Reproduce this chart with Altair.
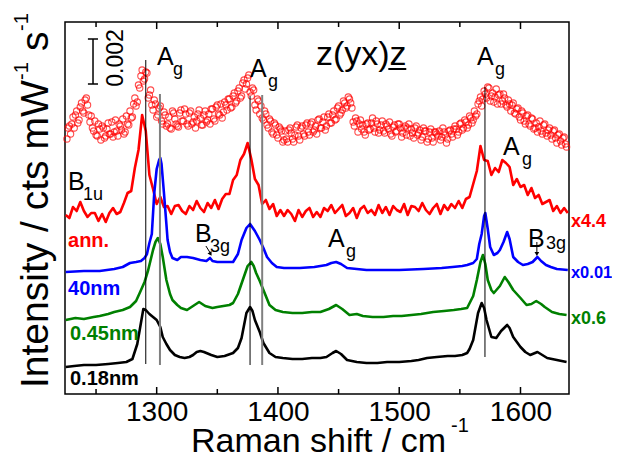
import altair as alt
import pandas as pd

FONT = "Liberation Sans"

# ---------------- spectra (x: Raman shift in cm-1, y: offset intensity, arb. units) ----------------
BLACK_X = [1225,1232,1240,1250,1260,1268,1275,1280,1284,1286,1289,1291,1294,1296,1300,1303,1305,1308,1311,1315,
           1319,1323,1327,1330,1333,1336,1339,1341,1345,1350,1356,1363,1367,1370,1374,1377,1379,1381,1385,1388,
           1393,1398,1404,1412,1420,1428,1435,1440,1445,1448,1452,1457,1465,1473,1482,1490,1500,1510,1516,1523,
           1531,1540,1546,1552,1556,1558,1561,1565,1568,1570,1572,1576,1580,1584,1589,1591,1594,1600,1604,1608,
           1614,1618,1622,1630,1638]
BLACK_Y = [27,28,29,29,30,31,32,35,50,64,85,84,80,78,74,67,57,50,44,39,
           37,36,37,39,42,43,42,41,39,37,38,41,46,56,81,87,83,74,62,51,
           41,37,36,35,35,36,36,37,41,43,40,34,32,31,31,32,32,33,34,36,
           37,38,38,39,41,45,54,81,91,86,74,57,56,63,69,66,57,47,42,39,
           42,39,36,34,32]

GREEN_X = [1225,1233,1240,1248,1253,1260,1265,1272,1278,1283,1286,1290,1293,1297,1299,1301,1303,1305,1308,1311,
           1313,1317,1320,1325,1330,1335,1340,1346,1350,1355,1360,1363,1367,1371,1375,1378,1380,1382,1385,1388,
           1393,1398,1404,1412,1420,1428,1435,1442,1448,1453,1459,1465,1470,1478,1487,1495,1502,1510,1518,1528,
           1537,1545,1551,1556,1561,1564,1567,1569,1571,1573,1576,1578,1583,1587,1590,1594,1600,1605,1609,1613,
           1617,1620,1626,1632,1638]
GREEN_Y = [74,76,75,77,78,80,82,84,87,93,101,112,124,144,152,156,150,137,114,100,
           94,89,86,84,88,92,88,86,87,88,89,91,100,114,128,132,128,121,113,104,
           89,84,82,81,81,82,82,85,89,85,79,80,78,77,77,78,78,79,80,82,
           83,84,85,86,98,114,132,139,130,114,104,101,108,117,112,104,96,89,90,93,
           90,87,82,80,79]

BLUE_X = [1225,1240,1253,1265,1272,1278,1283,1287,1290,1292,1294,1296,1298,1300,1302,1303,1304,1306,1308,1309,
          1311,1313,1317,1320,1325,1330,1336,1341,1344,1346,1350,1356,1363,1367,1370,1374,1377,1381,1385,1388,
          1391,1395,1399,1405,1410,1418,1430,1440,1444,1448,1452,1457,1465,1473,1485,1500,1520,1535,1544,1552,
          1556,1561,1564,1566,1568,1570,1571,1573,1575,1578,1581,1583,1586,1589,1591,1594,1598,1602,1606,1610,
          1614,1617,1621,1625,1630,1639]
BLUE_Y = [122,123,123,125,127,131,132,133,136,140,151,160,201,225,234,236,230,201,170,154,
          142,136,134,137,137,136,134,133,136,133,132,132,132,140,154,166,170,163,154,146,
          137,131,127,126,126,126,127,129,131,132,130,126,125,124,124,124,125,126,127,128,
          129,131,135,150,160,178,181,165,147,139,141,144,152,162,155,137,132,129,130,132,
          137,133,129,127,125,124]

# annealed sample, solid red line, sampled every 3 cm-1 from 1225
RED_START, RED_STEP = 1225, 3
RED_Y = [179,176,187,183,192,183,177,181,181,173,180,172,181,186,180,182,191,201,203,226,
         244,279,263,219,205,190,197,187,188,180,188,189,183,180,188,184,193,186,182,191,
         186,194,185,195,200,200,214,219,234,240,251,235,215,209,190,194,185,190,178,184,
         178,184,180,173,184,177,183,186,177,182,177,186,183,189,181,185,189,178,181,186,
         176,185,188,181,184,179,189,181,187,179,188,184,182,190,179,188,187,183,191,184,
         180,186,190,180,189,184,190,186,193,186,195,197,210,223,248,234,233,219,226,222,
         234,231,227,209,215,207,209,199,206,196,199,190,192,194,183,188,181,186,181]

# annealed sample, open circles (top trace): even cm-1 from 1226 ...
CIRC_A_START = 1226
CIRC_A_Y = [255,268,270,266,283,274,291,281,296,279,
            278,263,259,270,254,266,258,271,260,257,
            274,258,268,275,262,270,283,277,296,292,
            306,324,315,321,299,289,294,277,286,273,
            282,268,277,265,281,270,267,284,273,280,
            268,283,272,266,280,276,269,283,274,270,
            285,273,289,279,276,292,284,295,287,301,
            293,306,298,314,310,319,298,304,284,293,
            288,274,280,266,273,260,269,256,265,252,
            263,252,266,255,259,269,254,268,258,271,
            259,272,264,260,275,266,277,268,280,271,
            283,275,288,281,293,286,297,291,272,276,
            262,274,269,259,271,265,276,262,270,264,
            273,261,268,272,258,269,263,270,257,266,
            259,270,265,256,268,261,254,266,263,255,
            265,252,262,258,254,266,259,255,264,257,
            268,259,270,264,274,266,278,271,283,280,
            293,288,303,296,306,298,292,305,299,290,
            300,289,294,283,291,280,286,274,281,270,
            279,268,275,266,262,273,260,270,258,266,
            255,264,251,260,249,257,247]
# ... and odd cm-1 from 1227
CIRC_B_START = 1227
CIRC_B_Y = [266,260,277,279,271,287,283,294,289,272,
            266,273,258,265,268,256,265,260,272,262,
            263,270,264,260,278,269,276,290,288,309,
            318,313,322,296,304,284,290,279,288,270,
            279,270,266,283,275,268,281,273,285,270,
            281,270,277,273,284,269,279,272,280,285,
            275,287,280,290,282,289,295,286,298,291,
            303,296,311,305,316,302,306,289,295,280,
            276,283,269,275,262,271,259,267,263,254,
            255,264,261,252,267,258,266,260,269,262,
            270,262,268,274,266,272,264,277,271,279,
            274,286,279,284,291,288,295,286,268,273,
            270,265,262,270,264,271,266,273,261,269,
            263,270,265,260,267,262,270,266,261,268,
            266,258,261,266,259,264,257,263,252,262,
            256,262,260,263,257,262,251,263,260,265,
            265,262,271,266,272,269,276,274,278,290,
            297,295,300,307,293,301,297,290,300,293,
            296,287,290,289,281,285,277,283,273,278,
            270,276,265,271,267,263,269,261,264,259,
            263,256,259,253,256,250]

# vertical guide lines
VL_X = [1291, 1302.7, 1377, 1387, 1570.7]
VL_TOP = [334, 300, 298, 299, 307]
VL_BOT = [30, 29, 29, 29, 37]
VL_KIND = ["k", "g", "k", "g", "k"]

MAJOR = [1300, 1400, 1500, 1600]
MINOR = [1250, 1350, 1450, 1550]

# ---------------- tables ----------------
def series(xs, ys):
    return pd.DataFrame({"x": xs, "y": ys})

black = series(BLACK_X, BLACK_Y)
green = series(GREEN_X, GREEN_Y)
blue = series(BLUE_X, BLUE_Y)
red = series([RED_START + RED_STEP * i for i in range(len(RED_Y))], RED_Y)
circ = pd.concat([
    series([CIRC_A_START + 2 * i for i in range(len(CIRC_A_Y))], CIRC_A_Y),
    series([CIRC_B_START + 2 * i for i in range(len(CIRC_B_Y))], CIRC_B_Y),
], ignore_index=True)
vl = pd.DataFrame({"x": VL_X, "y": VL_TOP, "y2": VL_BOT, "kind": VL_KIND})

XS = alt.Scale(domain=[1224.4, 1640], nice=False, zero=False)
YS = alt.Scale(domain=[0, 372], nice=False, zero=False)
X = alt.X("x:Q", scale=XS, axis=alt.Axis(values=MAJOR, ticks=False, tickSize=0, domain=False, grid=False,
                                         labelFontSize=28, labelFont=FONT, labelColor="black",
                                         labelPadding=4, title=None, format="d"))
Y = alt.Y("y:Q", scale=YS, axis=None)


def line(df, color, width):
    return alt.Chart(df).mark_line(color=color, strokeWidth=width, strokeJoin="round").encode(x=X, y=Y)


layers = []
layers.append(alt.Chart(circ).mark_point(shape="circle", filled=False, color="#ff0000", size=40,
                                         strokeWidth=1.1).encode(x=X, y=Y))
layers.append(line(red, "#ff0000", 2.6))
layers.append(line(blue, "#0000ff", 2.6))
layers.append(line(green, "#008000", 2.6))
layers.append(line(black, "#000000", 2.6))

# vertical guides
layers.append(alt.Chart(vl[vl.kind == "g"]).mark_rule(color="#808080", strokeWidth=2).encode(
    x=X, y=Y, y2="y2:Q"))
layers.append(alt.Chart(vl[vl.kind == "k"]).mark_rule(color="#000000", strokeWidth=1).encode(
    x=X, y=Y, y2="y2:Q"))

# ticks (inward, top and bottom)
tmaj = pd.DataFrame({"x": MAJOR})
tmin = pd.DataFrame({"x": MINOR})
for df, ln in ((tmaj, 7), (tmin, 5)):
    layers.append(alt.Chart(df).mark_rule(color="black", strokeWidth=1.5).encode(
        x=X, y=alt.value(372), y2=alt.value(372 - ln)))
    layers.append(alt.Chart(df).mark_rule(color="black", strokeWidth=1.5).encode(
        x=X, y=alt.value(0), y2=alt.value(ln)))

# scale bar (0.002)
sb = pd.DataFrame({"x": [1247.5, 1243.3, 1243.3], "x2": [1247.5, 1251.6, 1251.6],
                   "y": [310, 310, 355], "y2": [355, 310, 355]})
layers.append(alt.Chart(sb).mark_rule(color="black", strokeWidth=1.5).encode(
    x=X, x2="x2:Q", y=Y, y2="y2:Q"))


def txt(df, size, color="black", weight="normal", angle=0, align="left", baseline="alphabetic"):
    return alt.Chart(df).mark_text(font=FONT, fontSize=size, color=color, fontWeight=weight,
                                   angle=angle, align=align, baseline=baseline).encode(
        x=X, y=Y, text="t:N")


# mode labels
big = pd.DataFrame({"t": ["A", "A", "A", "A", "A", "B", "B", "B"],
                    "x": [1300.2, 1376.9, 1564.1, 1585.5, 1441.2, 1226.9, 1331.6, 1606.1],
                    "y": [329, 317, 329, 239, 147, 204, 152, 147]})
sub = pd.DataFrame({"t": ["g", "g", "g", "g", "g", "1u", "3g", "3g"],
                    "x": [1313.4, 1391.8, 1578.9, 1601.2, 1456.1, 1239.2, 1343.9, 1621.0],
                    "y": [319, 307, 319, 229, 137, 194, 142, 145]})
layers.append(txt(big, 25))
layers.append(txt(sub, 18))

# arrows for B3g
arr = pd.DataFrame({"x": [1340.6, 1613.5], "x2": [1344.2, 1613.5], "y": [148, 152], "y2": [141, 141]})
layers.append(alt.Chart(arr).mark_rule(color="black", strokeWidth=1).encode(x=X, x2="x2:Q", y=Y, y2="y2:Q"))
head1 = pd.DataFrame({"x": [1344.4], "y": [140]})
head2 = pd.DataFrame({"x": [1613.5], "y": [140]})
layers.append(alt.Chart(head1).mark_point(shape="triangle-down", filled=True, color="black", size=22,
                                          angle=330, opacity=1).encode(x=X, y=Y))
layers.append(alt.Chart(head2).mark_point(shape="triangle-down", filled=True, color="black", size=22,
                                          opacity=1).encode(x=X, y=Y))

# geometry label z(yx)z with underlined last z
layers.append(txt(pd.DataFrame({"t": ["z(yx)z"], "x": [1431.3], "y": [329]}), 34))
ul = pd.DataFrame({"x": [1491.0], "x2": [1505.8], "y": [325]})
layers.append(alt.Chart(ul).mark_rule(color="black", strokeWidth=2).encode(x=X, x2="x2:Q", y=Y))

# scale text
layers.append(txt(pd.DataFrame({"t": ["0.002"], "x": [1266.1], "y": [336]}), 23, angle=270,
                  align="center", baseline="middle"))

# sample labels (left) and factors (right)
SAMPLE_T = ["ann.", "40nm", "0.45nm", "0.18nm"]
SAMPLE_C = ["#ff0000", "#0000ff", "#008000", "#000000"]
SAMPLE_X = [1226.9, 1226.9, 1228.5, 1228.5]
SAMPLE_Y = [147, 99, 54, 9]
for t, c, xx, yy in zip(SAMPLE_T, SAMPLE_C, SAMPLE_X, SAMPLE_Y):
    layers.append(txt(pd.DataFrame({"t": [t], "x": [xx], "y": [yy]}), 20, color=c, weight="bold"))

FACT_T = ["x4.4", "x0.01", "x0.6"]
FACT_C = ["#ff0000", "#0000ff", "#008000"]
FACT_Y = [167, 116, 70]
FACT_S = [18, 16.5, 18]
for t, c, yy, fs in zip(FACT_T, FACT_C, FACT_Y, FACT_S):
    layers.append(txt(pd.DataFrame({"t": [t], "x": [1641.6], "y": [yy]}), fs, color=c, weight="bold"))


# axis titles as text (with superscripts); pixel positions relative to plot area
def ptxt(t, px, py, size, angle=0):
    return alt.Chart(pd.DataFrame({"t": [t]})).mark_text(
        font=FONT, fontSize=size, color="black", angle=angle, align="left", baseline="alphabetic").encode(
        x=alt.value(px), y=alt.value(py), text="t:N")


layers.append(ptxt("Raman shift / cm", 126, 430, 34))
layers.append(ptxt("-1", 386, 410, 20))

FY = 39
layers.append(ptxt("Intensity / cts mW", -17, 366, FY, angle=270))
layers.append(ptxt("-1", -37, 58, 20, angle=270))
layers.append(ptxt("s", -17, 29, FY, angle=270))
layers.append(ptxt("-1", -37, 9, 20, angle=270))

chart = alt.layer(*layers).properties(
    width=504, height=372,
    autosize=alt.AutoSizeParams(type="none"),
    padding={"left": 57, "top": 14, "right": 43, "bottom": 65},
).configure_view(stroke="black", strokeWidth=1.5)

chart.save("out.html", embed_options={"renderer": "svg", "actions": False})
